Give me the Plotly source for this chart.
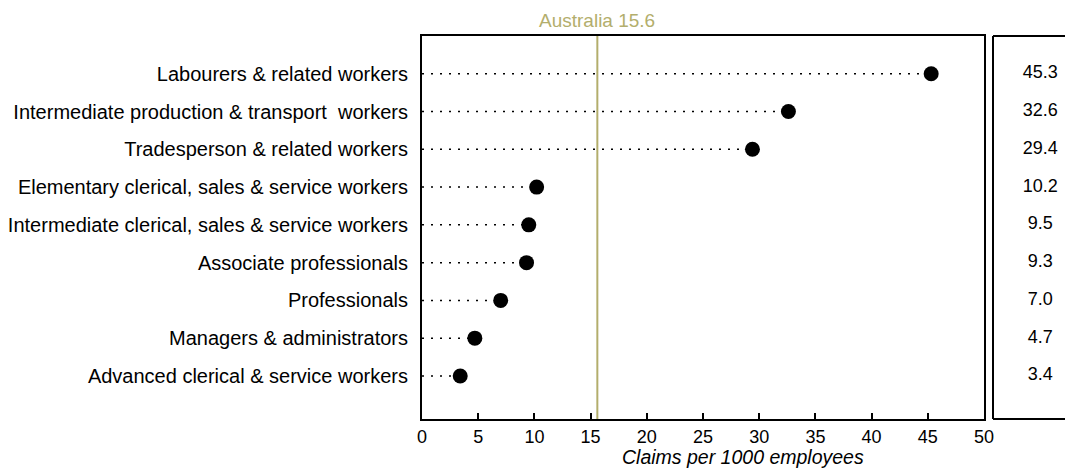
import plotly.graph_objects as go

# Données
occupations = [
    "Labourers & related workers",
    "Intermediate production & transport  workers",
    "Tradesperson & related workers",
    "Elementary clerical, sales & service workers",
    "Intermediate clerical, sales & service workers",
    "Associate professionals",
    "Professionals",
    "Managers & administrators",
    "Advanced clerical & service workers",
]
claims = [45.3, 32.6, 29.4, 10.2, 9.5, 9.3, 7.0, 4.7, 3.4]
australia = 15.6
x_ticks = [0, 5, 10, 15, 20, 25, 30, 35, 40, 45, 50]

rows = list(range(len(occupations)))
olive = "#b3ae6c"
font = "Liberation Sans, Arial, sans-serif"

fig = go.Figure()

# Lignes pointillées de 0 à la valeur
for r, v in zip(rows, claims):
    fig.add_trace(go.Scatter(
        x=[0, v], y=[r, r], mode="lines",
        line=dict(color="black", width=1.5, dash="2px,7px"),
        showlegend=False, hoverinfo="skip"
    ))

# Points
fig.add_trace(go.Scatter(
    x=claims, y=rows, mode="markers",
    marker=dict(color="black", size=15),
    showlegend=False
))

# Ligne verticale Australie
fig.add_trace(go.Scatter(
    x=[australia, australia], y=[-1.0, 9.14], mode="lines",
    line=dict(color=olive, width=2),
    showlegend=False, hoverinfo="skip"
))
fig.add_annotation(
    x=australia, y=1, xref="x", yref="paper",
    text=f"Australia {australia}", showarrow=False,
    yanchor="bottom", yshift=3,
    font=dict(color=olive, size=19, family=font)
)

# Valeurs dans le panneau de droite
fig.add_trace(go.Scatter(
    x=[0.59] * len(claims), y=rows, mode="text",
    text=[f"{v:.1f}" for v in claims],
    textfont=dict(size=18, color="black", family=font),
    xaxis="x2", yaxis="y2", showlegend=False, hoverinfo="skip"
))

# Cadre du panneau de droite (bords gauche, haut, bas)
for x0, y0, x1, y1 in [(0, 0, 0, 1), (0, 1, 1, 1), (0, 0, 1, 0)]:
    fig.add_shape(type="line", xref="x2 domain", yref="y2 domain",
                  x0=x0, y0=y0, x1=x1, y1=y1,
                  line=dict(color="black", width=2))

# Titre de l'axe x
fig.add_annotation(
    x=(743 - 422) / 651, y=0, xref="paper", yref="paper",
    text="<i>Claims per 1000 employees</i>", showarrow=False,
    yanchor="top", yshift=-25,
    font=dict(size=19.5, color="black", family=font)
)

# la page ajoute une marge de 8 px : figure réduite d'autant
fig.update_layout(
    width=1065, height=462,
    margin=dict(l=414, r=0, t=28, b=51),
    plot_bgcolor="white", paper_bgcolor="white",
    font=dict(family=font, size=20, color="black"),
    xaxis=dict(
        domain=[0, (984 - 422) / 651], range=[0, 50], tickvals=x_ticks,
        showline=True, linecolor="black", linewidth=2, mirror=True,
        ticks="inside", ticklen=6, tickwidth=1.5, tickcolor="black",
        showgrid=False, zeroline=False, automargin=False,
        tickfont=dict(size=18)
    ),
    yaxis=dict(
        range=[9.14, -1.0], tickvals=rows, ticktext=occupations,
        showline=True, linecolor="black", linewidth=2, mirror=True,
        ticks="", showgrid=False, zeroline=False, automargin=False,
        ticklabelstandoff=8, tickfont=dict(size=20)
    ),
    xaxis2=dict(
        domain=[(993 - 422) / 651, 1], range=[0, 1], anchor="y2",
        visible=False
    ),
    yaxis2=dict(
        range=[9.14, -1.0], anchor="x2", visible=False
    ),
)

fig.write_html("out.html")
